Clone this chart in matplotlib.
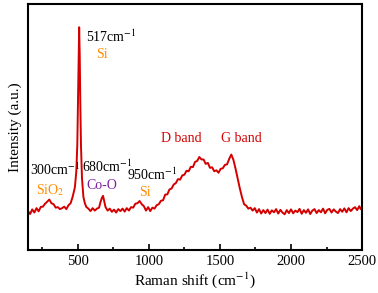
import matplotlib.pyplot as plt

# Raman spectrum (normalised intensity)
shift = [150, 165, 180, 195, 210, 225, 240, 255, 270, 285, 300, 315, 330, 345, 360,
         375, 390, 405, 420, 435, 450, 465, 480, 490, 497, 502, 506, 510, 514, 518,
         523, 530, 540, 550, 560, 575, 590, 605, 620, 635, 650, 660, 670, 678, 686,
         695, 710, 725, 740, 755, 770, 785, 800, 815, 830, 845, 860, 875, 890, 905,
         920, 935, 950, 965, 980, 995, 1010, 1025, 1040, 1055, 1070, 1085, 1100, 1115,
         1130, 1145, 1160, 1175, 1190, 1205, 1220, 1235, 1250, 1265, 1280, 1295, 1310,
         1325, 1340, 1355, 1370, 1385, 1400, 1415, 1430, 1445, 1460, 1475, 1490, 1505,
         1520, 1535, 1550, 1565, 1580, 1595, 1610, 1625, 1640, 1655, 1670, 1685, 1700,
         1715, 1730, 1745, 1760, 1775, 1790, 1805, 1820, 1835, 1850, 1865, 1880, 1895,
         1910, 1925, 1940, 1955, 1970, 1985, 2000, 2015, 2030, 2045, 2060, 2075, 2090,
         2105, 2120, 2135, 2150, 2165, 2180, 2195, 2210, 2225, 2240, 2255, 2270, 2285,
         2300, 2315, 2330, 2345, 2360, 2375, 2390, 2405, 2420, 2435, 2450, 2465, 2480,
         2490, 2500]
intensity = [0.158, 0.146, 0.165, 0.152, 0.170, 0.157, 0.175, 0.176, 0.188, 0.196, 0.205,
             0.190, 0.186, 0.172, 0.174, 0.166, 0.170, 0.176, 0.166, 0.182, 0.190, 0.218,
             0.255, 0.320, 0.430, 0.620, 0.800, 0.906, 0.790, 0.600, 0.420, 0.290, 0.215,
             0.190, 0.175, 0.168, 0.158, 0.170, 0.160, 0.168, 0.172, 0.195, 0.212, 0.220,
             0.198, 0.175, 0.160, 0.168, 0.155, 0.164, 0.152, 0.166, 0.158, 0.168, 0.156,
             0.170, 0.160, 0.174, 0.172, 0.188, 0.190, 0.199, 0.186, 0.178, 0.160, 0.174,
             0.158, 0.172, 0.168, 0.182, 0.186, 0.200, 0.202, 0.225, 0.226, 0.246, 0.250,
             0.266, 0.272, 0.288, 0.286, 0.303, 0.306, 0.322, 0.320, 0.338, 0.337, 0.358,
             0.362, 0.378, 0.368, 0.368, 0.350, 0.354, 0.334, 0.336, 0.320, 0.324, 0.314,
             0.330, 0.332, 0.346, 0.348, 0.370, 0.388, 0.366, 0.330, 0.290, 0.250, 0.215,
             0.186, 0.180, 0.168, 0.172, 0.160, 0.170, 0.152, 0.166, 0.148, 0.162, 0.150,
             0.164, 0.147, 0.161, 0.153, 0.166, 0.148, 0.163, 0.152, 0.145, 0.162, 0.150,
             0.165, 0.149, 0.160, 0.154, 0.167, 0.147, 0.162, 0.151, 0.165, 0.146, 0.160,
             0.166, 0.150, 0.162, 0.153, 0.168, 0.149, 0.163, 0.167, 0.152, 0.165, 0.156,
             0.150, 0.166, 0.155, 0.169, 0.153, 0.170, 0.158, 0.168, 0.174, 0.162, 0.178,
             0.166, 0.174]

xticks = [500, 1000, 1500, 2000, 2500]

plt.rcParams['font.family'] = ['Liberation Serif', 'DejaVu Serif']
plt.rcParams['mathtext.fontset'] = 'stix'

fig = plt.figure(figsize=(3.78, 2.93), dpi=100)
ax = fig.add_axes([0.074, 0.147, 0.884, 0.839])
ax.plot(shift, intensity, c='#d40000', lw=1.4)

ax.set_xlim(150, 2500)
ax.set_ylim(0, 1)
ax.set_xticks(xticks)
ax.set_xticks([250, 750, 1250, 1750, 2250], minor=True)
ax.set_yticks([])
ax.tick_params(axis='x', which='both', direction='in', labelsize=10.5)
ax.tick_params(axis='x', which='major', length=4, width=1.2)
ax.tick_params(axis='x', which='minor', length=2.5, width=1.2)
for s in ax.spines.values():
    s.set_linewidth(1.5)

ax.set_xlabel('Raman shift (cm$^{-1}$)', fontsize=11, labelpad=2)
ax.set_ylabel('Intensity (a.u.)', fontsize=11, labelpad=4)

# peak labels
fs = 10
orange = '#ff8c00'
ax.text(561, 0.866, '517cm$^{-1}$', fontsize=fs, va='center')
ax.text(630, 0.797, 'Si', fontsize=fs, color=orange, va='center')
ax.text(166, 0.325, '300cm$^{-1}$', fontsize=fs, va='center')
ax.text(208, 0.244, 'SiO$_2$', fontsize=fs, color=orange, va='center')
ax.text(533, 0.337, '680cm$^{-1}$', fontsize=fs, va='center')
ax.text(561, 0.264, 'Co-O', fontsize=fs, color='#7b1fa2', va='center')
ax.text(844, 0.305, '950cm$^{-1}$', fontsize=fs, va='center')
ax.text(929, 0.232, 'Si', fontsize=fs, color=orange, va='center')
ax.text(1085, 0.455, 'D band', fontsize=fs, color='#d40000', va='center')
ax.text(1509, 0.455, 'G band', fontsize=fs, color='#d40000', va='center')

plt.savefig('out.png', dpi=100)
